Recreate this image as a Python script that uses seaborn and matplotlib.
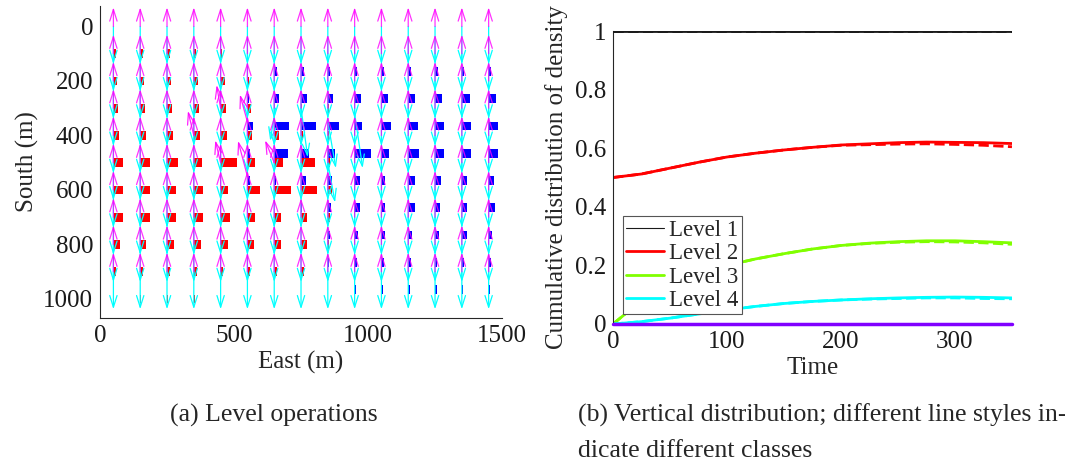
import matplotlib
matplotlib.use('Agg')
import matplotlib.pyplot as plt
from matplotlib.lines import Line2D
import numpy as np
import seaborn as sns

sns.set_theme(style='white')
plt.rcParams['font.family'] = ['Liberation Serif', 'DejaVu Serif']

# ---- panel (a): level operations ----
col_x = [50, 150, 250, 350, 450, 550, 650, 750, 850, 950, 1050, 1150, 1250, 1350, 1450]
node_y = [0, 100, 200, 300, 400, 500, 600, 700, 800, 900]
red_rows = [100, 200, 300, 400, 500, 600, 700, 800, 900, 1000]
red_width = [
    [10, 10, 11, 7, 7, 4, 0, 0, 0, 0, 0, 0, 0, 0, 0],
    [14, 14, 15, 15, 16, 7, 0, 0, 0, 0, 0, 0, 0, 0, 0],
    [17, 17, 19, 19, 20, 14, 2, 5, 3, 0, 0, 0, 0, 0, 0],
    [21, 21, 24, 24, 24, 17, 19, 8, 4, 3, 0, 0, 0, 0, 0],
    [35, 37, 41, 29, 62, 29, 31, 52, 9, 0, 0, 0, 0, 0, 0],
    [35, 37, 34, 34, 26, 47, 61, 60, 17, 0, 0, 0, 0, 0, 0],
    [35, 37, 35, 34, 35, 29, 24, 21, 9, 0, 0, 0, 0, 0, 0],
    [25, 22, 25, 27, 26, 25, 24, 21, 5, 0, 0, 0, 0, 0, 0],
    [10, 10, 12, 11, 10, 10, 9, 10, 0, 0, 0, 0, 0, 0, 0],
    [3, 3, 3, 3, 0, 0, 0, 0, 0, 0, 0, 0, 0, 0, 0],
]
blue_rows = [165, 265, 365, 465, 565, 665, 765, 865, 965]
blue_width = [
    [0, 0, 0, 0, 0, 3, 9, 10, 9, 9, 10, 10, 10, 9, 9],
    [0, 0, 0, 0, 0, 5, 17, 22, 21, 25, 25, 26, 26, 29, 27],
    [0, 0, 0, 0, 3, 20, 57, 57, 43, 28, 37, 35, 35, 36, 36],
    [0, 0, 0, 0, 0, 10, 50, 28, 27, 62, 30, 42, 35, 36, 36],
    [0, 0, 0, 0, 0, 8, 8, 18, 15, 20, 14, 24, 21, 21, 21],
    [0, 0, 0, 0, 0, 0, 0, 3, 11, 20, 12, 26, 20, 21, 22],
    [0, 0, 0, 0, 0, 0, 0, 0, 9, 13, 12, 15, 16, 19, 12],
    [0, 0, 0, 0, 0, 0, 0, 0, 6, 7, 10, 9, 9, 9, 9],
    [0, 0, 0, 0, 0, 0, 0, 0, 2, 5, 5, 7, 6, 6, 5],
]
up_len = 70      # magenta (upward) flow
down_len = 138   # cyan (downward) flow
# tilted arrows: tail x, tail y, dx, dy
tilt_up = [(350, 400, -22, -90), (450, 300, -15, -85), (450, 500, -20, -82),
           (550, 350, -28, -100), (550, 550, -35, -130), (650, 500, -34, -82)]
tilt_down = [(655, 300, -20, 120), (750, 300, 25, 180), (850, 350, 30, 170),
             (850, 500, 27, 146), (950, 320, 30, 200)]

# ---- panel (b): vertical distribution ----
t = [0, 25, 50, 75, 100, 125, 150, 175, 200, 225, 250, 275, 300, 325, 350]
lvl1 = [1.0] * 15
lvl2_a = [.500, .512, .532, .552, .570, .583, .594, .603, .611, .615, .619, .621, .620, .619, .616]
lvl2_b = [.500, .512, .532, .552, .570, .583, .594, .603, .610, .612, .614, .615, .613, .610, .605]
lvl3_a = [0, .080, .130, .170, .200, .222, .240, .256, .268, .276, .281, .284, .284, .281, .277]
lvl3_b = [0, .080, .130, .170, .200, .222, .240, .256, .268, .275, .279, .281, .280, .277, .272]
lvl4_a = [0, .008, .020, .034, .048, .060, .070, .077, .082, .086, .089, .091, .092, .091, .089]
lvl4_b = [0, .008, .020, .034, .048, .060, .070, .077, .082, .085, .087, .089, .089, .087, .086]
lvl5 = [0.0] * 15

fig = plt.figure(figsize=(10.65, 4.68), dpi=100)
axA = fig.add_axes([0.0939, 0.3205, 0.3775, 0.6667])
axB = fig.add_axes([0.5756, 0.3077, 0.3746, 0.6260])

FS = 18
spine_c = '#262626'

for i, y in enumerate(red_rows):
    axA.barh([y] * len(col_x), red_width[i], left=col_x, height=32,
             color='#ff0000', linewidth=0, zorder=2)
for i, y in enumerate(blue_rows):
    axA.barh([y] * len(col_x), blue_width[i], left=col_x, height=32,
             color='#0000ff', linewidth=0, zorder=2)

def arrow(ax, x0, y0, dx, dy, c, z, a=1.0):
    ax.annotate('', xy=(x0 + dx, y0 + dy), xytext=(x0, y0),
                arrowprops=dict(arrowstyle='->,head_length=0.7,head_width=0.22',
                                color=c, lw=0.9, shrinkA=0, shrinkB=0, alpha=a),
                zorder=z, annotation_clip=False)

for x in col_x:
    for y in node_y:
        arrow(axA, x, y, 0, down_len, '#00ffff', 3)
for x in col_x:
    for y in node_y:
        arrow(axA, x, y, 0, -up_len, '#ff00ff', 4, 0.8)
for x0, y0, dx, dy in tilt_down:
    arrow(axA, x0, y0, dx, dy, '#00ffff', 3)
for x0, y0, dx, dy in tilt_up:
    arrow(axA, x0, y0, dx, dy, '#ff00ff', 4, 0.85)

axA.set_xlim(0, 1500)
axA.set_ylim(1070, -75)
axA.set_xticks([0, 500, 1000, 1500])
axA.set_yticks([0, 200, 400, 600, 800, 1000])
axA.set_xlabel('East (m)', fontsize=FS, labelpad=3)
axA.set_ylabel('South (m)', fontsize=FS, labelpad=3)

# right panel lines
sns.lineplot(x=t, y=lvl1, ax=axB, color='k', lw=2, zorder=3)
sns.lineplot(x=t, y=lvl1, ax=axB, color='k', lw=2, linestyle='--', zorder=3)
sns.lineplot(x=t, y=lvl2_a, ax=axB, color='#ff0000', lw=2)
sns.lineplot(x=t, y=lvl2_b, ax=axB, color='#ff0000', lw=2, linestyle='--', dashes=(3, 1.5))
sns.lineplot(x=t, y=lvl3_a, ax=axB, color='#80ff00', lw=2)
sns.lineplot(x=t, y=lvl3_b, ax=axB, color='#80ff00', lw=2, linestyle='--', dashes=(3, 1.5))
sns.lineplot(x=t, y=lvl4_a, ax=axB, color='#00ffff', lw=2)
sns.lineplot(x=t, y=lvl4_b, ax=axB, color='#00ffff', lw=2, linestyle='--', dashes=(3, 1.5))
sns.lineplot(x=t, y=lvl5, ax=axB, color='#8000ff', lw=2.5, zorder=4, clip_on=False)

axB.set_xlim(0, 350)
axB.set_ylim(0, 1)
axB.set_xticks([0, 100, 200, 300])
axB.set_yticks([0, 0.2, 0.4, 0.6, 0.8, 1])
axB.set_yticklabels(['0', '0.2', '0.4', '0.6', '0.8', '1'])
axB.set_xlabel('Time', fontsize=FS, labelpad=3)
axB.set_ylabel('Cumulative distribution of density', fontsize=FS, labelpad=5)

handles = [Line2D([], [], color='k', lw=0.8),
           Line2D([], [], color='#ff0000', lw=2),
           Line2D([], [], color='#80ff00', lw=2),
           Line2D([], [], color='#00ffff', lw=2)]
leg = axB.legend(handles, ['Level 1', 'Level 2', 'Level 3', 'Level 4'],
                 loc='lower left', bbox_to_anchor=(0.025, 0.033), fontsize=16.5,
                 frameon=True, fancybox=False, framealpha=1, borderpad=0.15,
                 labelspacing=0.1, handlelength=1.65, handletextpad=0.2,
                 borderaxespad=0)
leg.get_frame().set_edgecolor('#555555')
leg.get_frame().set_linewidth(0.8)

for ax in (axA, axB):
    for s in ('top', 'right'):
        ax.spines[s].set_visible(False)
    for s in ('left', 'bottom'):
        ax.spines[s].set_color(spine_c)
        ax.spines[s].set_linewidth(0.8)
    ax.tick_params(direction='in', length=4, width=0.6, colors=spine_c,
                   labelsize=FS, labelcolor='k', pad=5)
    ax.set_facecolor('white')

fig.text(0.257, 0.113, '(a) Level operations', fontsize=18.5, ha='center', va='center')
fig.text(0.543, 0.113, '(b) Vertical distribution; different line styles in-',
         fontsize=18.5, ha='left', va='center')
fig.text(0.543, 0.036, 'dicate different classes', fontsize=18.5, ha='left', va='center')

fig.savefig('out.png', dpi=100, facecolor='white')
